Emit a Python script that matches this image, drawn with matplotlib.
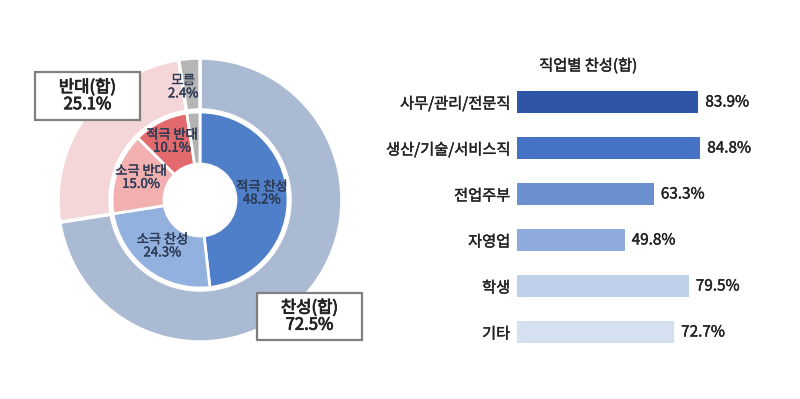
import numpy as np
import matplotlib
matplotlib.use("Agg")
import matplotlib.pyplot as plt
import matplotlib.patheffects as pe
from matplotlib.patches import Rectangle

plt.rcParams['font.family'] = ['Noto Sans CJK KR', 'DejaVu Sans']

# inner ring
inner_labels = ['적극 찬성', '소극 찬성', '소극 반대', '적극 반대', '모름']
inner_values = [48.2, 24.3, 15.0, 10.1, 2.4]
inner_colors = ['#4f7fc8', '#92b1de', '#f2b0b1', '#e36a6c', '#b3b3b3']

# outer ring
outer_labels = ['찬성(합)', '반대(합)', '모름']
outer_values = [72.5, 25.1, 2.4]
outer_colors = ['#abbad3', '#f4d5d8', '#b6b6b6']

# bar chart
jobs = ['사무/관리/전문직', '생산/기술/서비스직', '전업주부', '자영업', '학생', '기타']
job_values = [83.9, 84.8, 63.3, 49.8, 79.5, 72.7]
job_colors = ['#2f56a6', '#4673c3', '#6b90d0', '#8eabdb', '#bed0ea', '#d5e0f1']

W, H = 800, 399
fig = plt.figure(figsize=(8, 3.99), dpi=100)


def thick(c, lw=0.3):
    # a thin stroke makes regular text look heavier
    return [pe.withStroke(linewidth=lw, foreground=c)]


# ---- donut ----
cx, cy, R = 200, 200, 150
ax = fig.add_axes([(cx - R) / W, (H - cy - R) / H, 2 * R / W, 2 * R / H])
ax.set_aspect('equal')
ax.axis('off')

ax.pie(outer_values, radius=142, colors=outer_colors, startangle=90, counterclock=False,
       wedgeprops=dict(width=52, edgecolor='white', linewidth=2.5))
ax.pie(inner_values, radius=88, colors=inner_colors, startangle=90, counterclock=False,
       wedgeprops=dict(width=52, edgecolor='white', linewidth=2))
ax.set_xlim(-R, R)
ax.set_ylim(-R, R)

txt_col = '#2e3b55'
start = 90.0
for lab, v in zip(inner_labels, inner_values):
    ang = np.deg2rad(start - v * 3.6 / 2)
    start -= v * 3.6
    if lab == '모름':
        continue
    r = 62
    ax.text(r * np.cos(ang), r * np.sin(ang) + 3, '%s\n%.1f%%' % (lab, v), ha='center', va='center',
            fontsize=9.5, color=txt_col, linespacing=1.0, path_effects=thick(txt_col))

# 모름 label in outer ring
start = 90.0
for lab, v in zip(outer_labels, outer_values):
    ang = np.deg2rad(start - v * 3.6 / 2)
    start -= v * 3.6
    if lab == '모름':
        ax.text(116 * np.cos(ang) - 8, 116 * np.sin(ang) - 3, '%s\n%.1f%%' % (lab, v), ha='center', va='center',
                fontsize=9.5, color=txt_col, linespacing=1.0, path_effects=thick(txt_col))

# summary boxes (pixel boxes: x0, y0, x1, y1 from top-left)
for (x0, y0, x1, y1), idx in [((35, 72, 140, 120), 1), ((257, 293, 362, 340), 0)]:
    fig.patches.append(Rectangle((x0 / W, 1 - y1 / H), (x1 - x0) / W, (y1 - y0) / H,
                                 transform=fig.transFigure, facecolor='white',
                                 edgecolor='#7f7f7f', linewidth=1.6, zorder=5))
    fig.text((x0 + x1) / 2 / W, 1 - (y0 + y1) / 2 / H, '%s\n%.1f%%' % (outer_labels[idx], outer_values[idx]),
             ha='center', va='center', fontsize=12, color='#222222',
             linespacing=1.0, zorder=6, path_effects=thick('#222222', 0.6))

# ---- bars ----
bx0, bw = 517, 216
by_top, by_bot = 79, 355
bax = fig.add_axes([bx0 / W, 1 - by_bot / H, bw / W, (by_bot - by_top) / H])
y = np.arange(len(jobs))
bax.barh(y, job_values, height=0.48, color=job_colors)
bax.set_xlim(0, 100)
bax.set_ylim(len(jobs) - 0.5, -0.5)
bax.set_yticks(y)
bax.set_yticklabels(jobs, fontsize=11, color='#222222')
for t in bax.get_yticklabels():
    t.set_path_effects(thick('#222222'))
bax.tick_params(axis='y', length=0, pad=5)
bax.set_xticks([])
for s in bax.spines.values():
    s.set_visible(False)
for yi, v in zip(y, job_values):
    bax.text(v + 3.3, yi, '%.1f%%' % v, ha='left', va='center', fontsize=11, color='#222222',
             path_effects=thick('#222222'))

fig.text(588 / W, 1 - 66 / H, '직업별 찬성(합)', ha='center', va='center', fontsize=11,
         color='#222222', path_effects=thick('#222222'))

fig.savefig('out.png', dpi=100, facecolor='white')
